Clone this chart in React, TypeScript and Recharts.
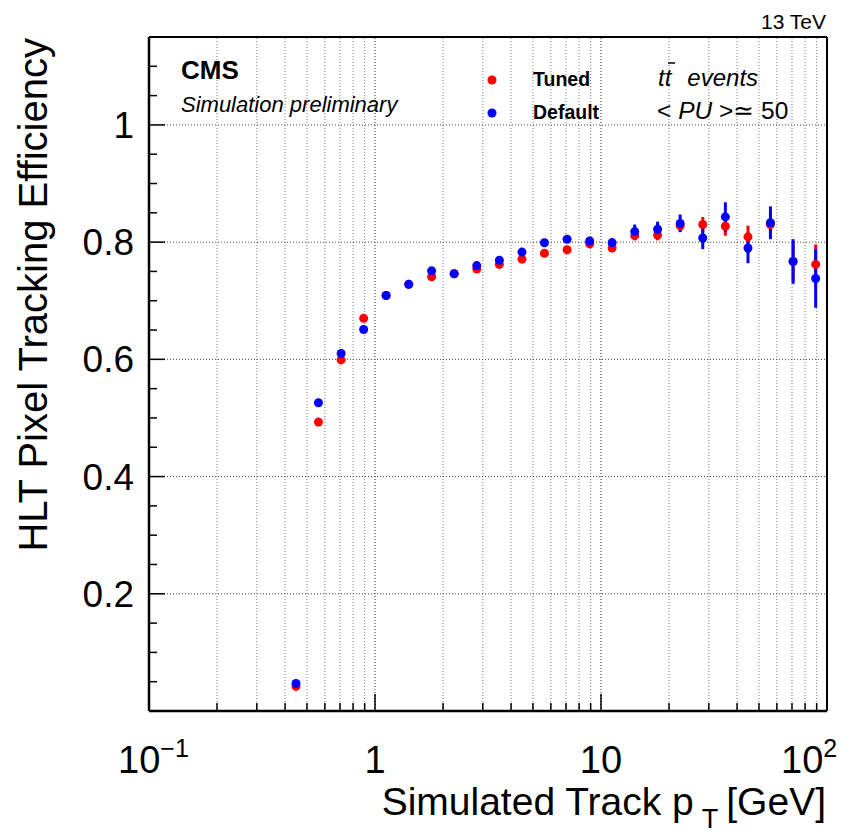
import React from 'react';
import {
    ScatterChart, Scatter, XAxis, YAxis, ReferenceLine, ErrorBar
} from 'recharts';

// bin centres in simulated track pT [GeV]
const ptBins = [0.447, 0.562, 0.708, 0.891, 1.12, 1.41, 1.78, 2.24, 2.82, 3.55, 4.47, 5.62, 7.08, 8.91, 11.2, 14.1, 17.8, 22.4, 28.2, 35.5, 44.7, 56.2, 70.8, 89.1];

const tunedEff = [0.042, 0.493, 0.599, 0.670, 0.709, 0.728, 0.741, 0.746, 0.754, 0.762, 0.771, 0.781, 0.787, 0.797, 0.790, 0.811, 0.812, 0.828, 0.830, 0.827, 0.809, 0.830, 0.767, 0.762];
const tunedErr = [0.002, 0.003, 0.003, 0.003, 0.003, 0.003, 0.003, 0.003, 0.004, 0.004, 0.004, 0.005, 0.006, 0.006, 0.007, 0.008, 0.009, 0.010, 0.013, 0.016, 0.019, 0.021, 0.034, 0.034];

const defaultEff = [0.047, 0.526, 0.610, 0.651, 0.709, 0.728, 0.751, 0.746, 0.760, 0.769, 0.783, 0.799, 0.805, 0.802, 0.799, 0.818, 0.822, 0.832, 0.807, 0.843, 0.790, 0.833, 0.767, 0.738];
const defaultErr = [0.002, 0.003, 0.003, 0.003, 0.003, 0.003, 0.004, 0.004, 0.004, 0.004, 0.005, 0.006, 0.006, 0.007, 0.008, 0.012, 0.013, 0.015, 0.019, 0.025, 0.026, 0.028, 0.038, 0.050];

const xTicks = [0.1, 0.2, 0.3, 0.4, 0.5, 0.6, 0.7, 0.8, 0.9, 1, 2, 3, 4, 5, 6, 7, 8, 9, 10, 20, 30, 40, 50, 60, 70, 80, 90, 100];
const xMajor = [0.1, 1, 10, 100];
const yTicks = [0.05, 0.1, 0.15, 0.2, 0.25, 0.3, 0.35, 0.4, 0.45, 0.5, 0.55, 0.6, 0.65, 0.7, 0.75, 0.8, 0.85, 0.9, 0.95, 1, 1.05, 1.1];
const yMajor = [0.2, 0.4, 0.6, 0.8, 1];
const yLabels = ['0.2', '0.4', '0.6', '0.8', '1'];

const tuned = ptBins.map((pt, i) => ({ pt, eff: tunedEff[i], err: tunedErr[i] }));
const defaults = ptBins.map((pt, i) => ({ pt, eff: defaultEff[i], err: defaultErr[i] }));

const FONT = '"Liberation Sans", Arial, Helvetica, sans-serif';

const XTick = (props: any) => {
    const { x, y, payload } = props;
    const v = payload.value;
    const major = xMajor.includes(v);
    let label: React.ReactNode = null;
    if (v === 0.1) label = <text x={x - 31} y={y + 62} fontSize={38} fontFamily={FONT}>10<tspan dy={-16} fontSize={25}>−1</tspan></text>;
    if (v === 1) label = <text x={x} y={y + 62} textAnchor="middle" fontSize={38} fontFamily={FONT}>1</text>;
    if (v === 10) label = <text x={x} y={y + 62} textAnchor="middle" fontSize={38} fontFamily={FONT}>10</text>;
    if (v === 100) label = <text x={x - 46} y={y + 62} fontSize={38} fontFamily={FONT}>10<tspan dy={-16} fontSize={25}>2</tspan></text>;
    return (
        <g>
            <line x1={x} y1={y} x2={x} y2={y - (major ? 17 : 8)} stroke="#000" strokeWidth={1.5} />
            {label}
        </g>
    );
};

const YTick = (props: any) => {
    const { x, y, payload } = props;
    const idx = yMajor.findIndex(m => Math.abs(m - payload.value) < 1e-6);
    const major = idx >= 0;
    return (
        <g>
            <line x1={x} y1={y} x2={x + (major ? 16 : 8)} y2={y} stroke="#000" strokeWidth={1.5} />
            {major && <text x={x - 15} y={y + 13} textAnchor="end" fontSize={37} fontFamily={FONT}>{yLabels[idx]}</text>}
        </g>
    );
};

const Dot = (color: string) => (props: any) => <circle cx={props.cx} cy={props.cy} r={4.5} fill={color} />;

export default function App() {
    return (
        <div style={{ position: 'absolute', left: 0, top: 0, width: 861, height: 836, background: '#fff', fontFamily: FONT }}>
            <ScatterChart width={861} height={836} margin={{ top: 37, right: 34, left: 0, bottom: 0 }}>
                <XAxis dataKey="pt" type="number" scale="log" domain={[0.1, 100]} ticks={xTicks} interval={0}
                    allowDataOverflow height={125} tickSize={0} tickMargin={0} tick={<XTick />}
                    axisLine={{ stroke: '#000', strokeWidth: 2.5 }} />
                <YAxis dataKey="eff" type="number" domain={[0, 1.15]} ticks={yTicks} interval={0}
                    allowDataOverflow width={149} tickSize={0} tickMargin={0} tick={<YTick />}
                    axisLine={{ stroke: '#000', strokeWidth: 2.5 }} />
                {xTicks.filter(t => t > 0.1 && t < 100).map(t => (
                    <ReferenceLine key={`vx-${t}`} x={t} stroke={xMajor.includes(t) ? '#222' : '#777'} strokeWidth={1} strokeDasharray="1 2" />
                ))}
                {yMajor.map(t => (
                    <ReferenceLine key={`hy-${t}`} y={t} stroke="#444" strokeWidth={1} strokeDasharray="1 2" />
                ))}
                <ReferenceLine y={1.15} stroke="#000" strokeWidth={2} />
                <ReferenceLine x={100} stroke="#000" strokeWidth={2} />
                <Scatter name="Tuned" data={tuned} shape={Dot('#ff0000')} isAnimationActive={false}>
                    <ErrorBar dataKey="err" direction="y" width={0} stroke="#ff0000" strokeWidth={3} />
                </Scatter>
                <Scatter name="Default" data={defaults} shape={Dot('#0000ff')} isAnimationActive={false}>
                    <ErrorBar dataKey="err" direction="y" width={0} stroke="#0000ff" strokeWidth={3} />
                </Scatter>
            </ScatterChart>
            <svg width={861} height={836} style={{ position: 'absolute', left: 0, top: 0, pointerEvents: 'none' }} fontFamily={FONT}>
                <text x={826} y={29} textAnchor="end" fontSize={21}>13 TeV</text>
                <text x={181} y={79} fontSize={26} fontWeight="bold">CMS</text>
                <text x={181} y={112} fontSize={22} fontStyle="italic">Simulation preliminary</text>
                <circle cx={492} cy={80} r={4.5} fill="#ff0000" />
                <circle cx={492} cy={113} r={4.5} fill="#0000ff" />
                <text x={533} y={86} fontSize={19.5} fontWeight="bold">Tuned</text>
                <text x={533} y={119} fontSize={19.5} fontWeight="bold">Default</text>
                <text x={658} y={86} fontSize={24} fontStyle="italic">tt<tspan dx={16}>events</tspan></text>
                <line x1={668} y1={63} x2={675} y2={63} stroke="#000" strokeWidth={1.5} />
                <text x={657} y={119} fontSize={24.5}>&lt; <tspan fontStyle="italic">PU</tspan> &gt;≃ 50</text>
                <text x={826} y={815} textAnchor="end" fontSize={39}>Simulated Track p<tspan dx={8} dy={13} fontSize={27}>T</tspan><tspan dx={8} dy={-13}>[GeV]</tspan></text>
                <text x={47} y={38} textAnchor="end" fontSize={40} transform="rotate(-90, 47, 38)">HLT Pixel Tracking Efficiency</text>
            </svg>
        </div>
    );
}
